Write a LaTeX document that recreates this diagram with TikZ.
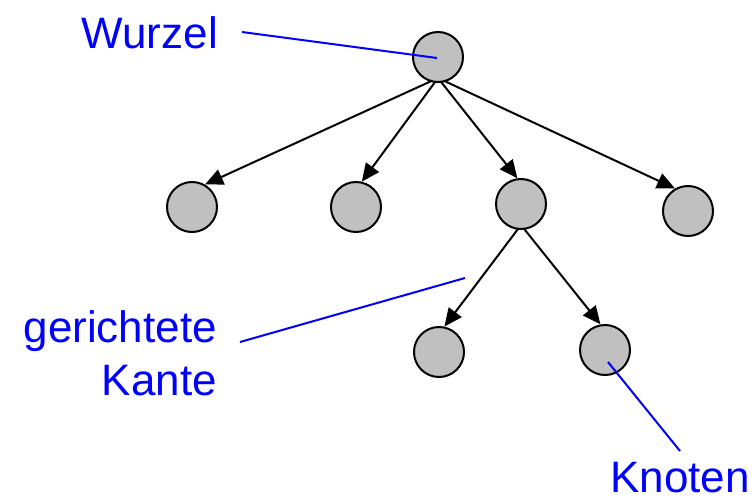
\documentclass[tikz,border=0pt]{standalone}
\usepackage{fontspec}
\setmainfont{Liberation Sans}
\usetikzlibrary{arrows.meta,backgrounds}
\definecolor{nodegray}{RGB}{192,192,192}
\begin{document}
\begin{tikzpicture}[x=1pt,y=-1pt,
  knot/.style={circle,draw=black,line width=2pt,fill=nodegray,minimum size=50pt,inner sep=0pt},
  edge/.style={line width=2pt,-{Triangle[length=18pt,width=16pt]}},
  lbl/.style={text=blue,font=\fontsize{44}{44}\selectfont,inner sep=0pt,text depth=0pt},
  pointer/.style={blue,line width=2pt}]
\useasboundingbox (0,0) rectangle (756,498);
\node[knot] (r) at (438,57) {};
\node[knot] (a) at (192,207) {};
\node[knot] (b) at (356,207) {};
\node[knot] (c) at (521,204) {};
\node[knot] (d) at (688,211) {};
\node[knot] (e) at (439,352) {};
\node[knot] (f) at (605,350) {};
\coordinate (rs) at ([yshift=5pt]r.south);
\coordinate (cs) at ([yshift=5pt]c.south);
\begin{scope}[on background layer]
\draw[edge] (rs) -- (a.60);
\draw[edge] (rs) -- (b.77);
\draw[edge] (rs) -- (c.98);
\draw[edge] (rs) -- (d.120);
\draw[edge] (cs) -- (e.78);
\draw[edge] (cs) -- (f.100);
\end{scope}
\node[lbl,anchor=base east] (w) at (218,48) {Wurzel};
\node[lbl,anchor=base east] (g) at (217,342) {gerichtete};
\node[lbl,anchor=base east] (k) at (217,395) {Kante};
\node[lbl,anchor=base west] (kn) at (610,492) {Knoten};
\coordinate (w1) at (242,32);
\coordinate (w2) at (437,58);
\coordinate (g1) at (240,342);
\coordinate (g2) at (465,278);
\coordinate (k1) at (608,362);
\coordinate (k2) at (680,451);
\draw[pointer] (w1) -- (w2);
\draw[pointer] (g1) -- (g2);
\draw[pointer] (k1) -- (k2);
\end{tikzpicture}
\end{document}
